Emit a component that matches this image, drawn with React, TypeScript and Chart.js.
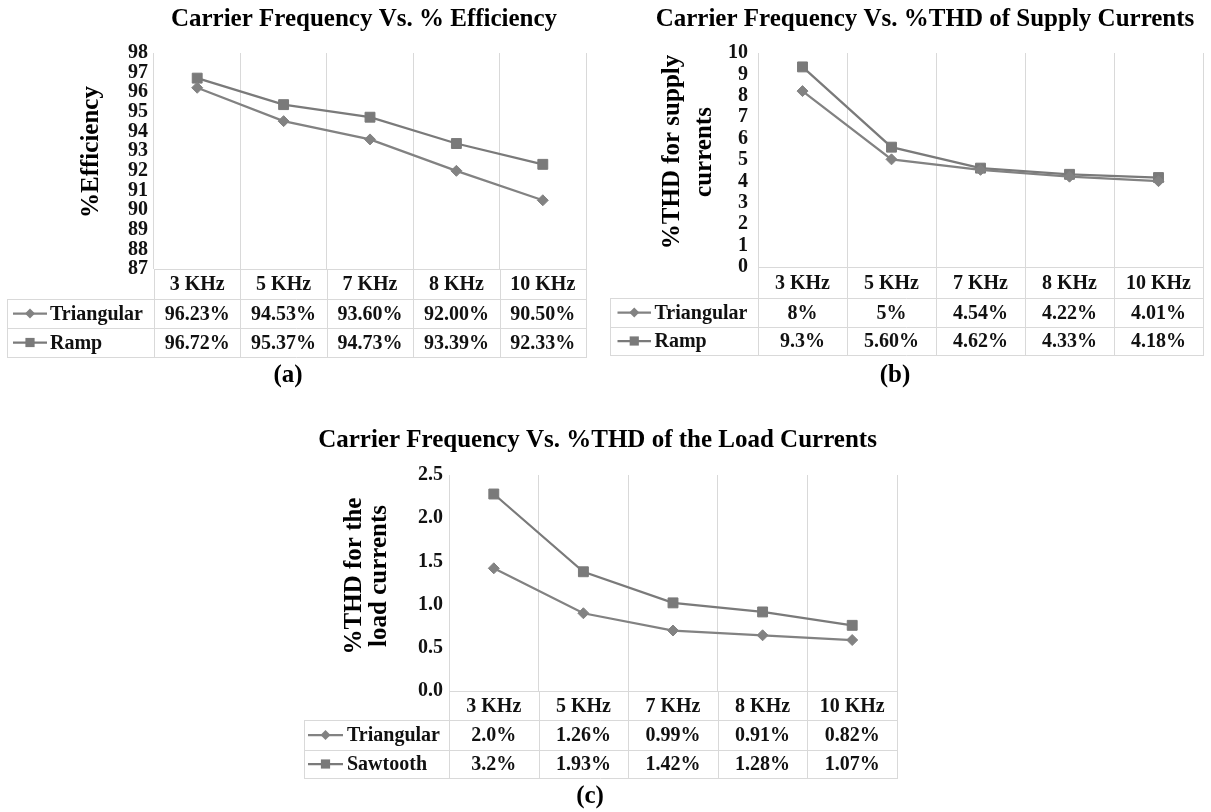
import React, { useEffect, useRef } from 'react';
import { Chart, registerables } from 'chart.js';

Chart.register(...registerables);

// ---------------- data ----------------
const categories = ['3 KHz', '5 KHz', '7 KHz', '8 KHz', '10 KHz'];

// (a) efficiency
const effTriangular = [96.23, 94.53, 93.6, 92.0, 90.5];
const effRamp = [96.72, 95.37, 94.73, 93.39, 92.33];
const effTriangularText = ['96.23%', '94.53%', '93.60%', '92.00%', '90.50%'];
const effRampText = ['96.72%', '95.37%', '94.73%', '93.39%', '92.33%'];

// (b) THD of supply currents
const supplyTriangular = [8.22, 5.03, 4.54, 4.22, 4.01];
const supplyRamp = [9.35, 5.6, 4.62, 4.33, 4.18];
const supplyTriangularText = ['8%', '5%', '4.54%', '4.22%', '4.01%'];
const supplyRampText = ['9.3%', '5.60%', '4.62%', '4.33%', '4.18%'];

// (c) THD of load currents
const loadTriangular = [1.42, 0.9, 0.7, 0.645, 0.59];
const loadSawtooth = [2.28, 1.38, 1.02, 0.915, 0.76];
const loadTriangularText = ['2.0%', '1.26%', '0.99%', '0.91%', '0.82%'];
const loadSawtoothText = ['3.2%', '1.93%', '1.42%', '1.28%', '1.07%'];

// ---------------- styling ----------------
const FONT = "'Liberation Serif', 'Times New Roman', Times, serif";
const GRID = '#d9d9d9';
const TEXT = '#111111';
const LINE_TRI = '#828282';
const LINE_SQ = '#7a7a7a';

type Series = { name: string; values: number[]; texts: string[]; marker: 'rectRot' | 'rect'; color: string; radius: number };
type PanelCfg = {
  x: number; y: number; w: number; h: number;
  area: { left: number; top: number; right: number; bottom: number };
  yMin: number; yMax: number; yStep: number; yDec: number; tickPad: number;
  title: string; titleX: number; titleY: number;
  yTitle: string[]; yTitleX: number[]; yTitleY: number;
  tableLeft: number; rows: number[]; // header top, row1 top, row2 top, bottom
  keyX1: number; keyX2: number; keyTextX: number;
  caption: string; captionX: number; captionY: number;
  series: Series[];
};

const panels: PanelCfg[] = [
  {
    x: 0, y: 0, w: 600, h: 400,
    area: { left: 154, top: 53, right: 586, bottom: 269 },
    yMin: 87, yMax: 98, yStep: 1, yDec: 0, tickPad: 6,
    title: 'Carrier Frequency Vs. % Efficiency', titleX: 364, titleY: 19.5,
    yTitle: ['%Efficiency'], yTitleX: [98], yTitleY: 152,
    tableLeft: 7, rows: [269, 299, 328, 357],
    keyX1: 13, keyX2: 47, keyTextX: 50,
    caption: '(a)', captionX: 288, captionY: 376,
    series: [
      { name: 'Triangular', values: effTriangular, texts: effTriangularText, marker: 'rectRot', color: LINE_TRI, radius: 5.5 },
      { name: 'Ramp', values: effRamp, texts: effRampText, marker: 'rect', color: LINE_SQ, radius: 7 },
    ],
  },
  {
    x: 600, y: 0, w: 611, h: 400,
    area: { left: 158, top: 53, right: 607, bottom: 267 },
    yMin: 0, yMax: 10, yStep: 1, yDec: 0, tickPad: 10,
    title: 'Carrier Frequency Vs. %THD of Supply Currents', titleX: 325, titleY: 19.5,
    yTitle: ['%THD for supply', 'currents'], yTitleX: [78.5, 111], yTitleY: 152,
    tableLeft: 10, rows: [267, 298, 327, 355],
    keyX1: 17.5, keyX2: 51, keyTextX: 54.5,
    caption: '(b)', captionX: 295, captionY: 376,
    series: [
      { name: 'Triangular', values: supplyTriangular, texts: supplyTriangularText, marker: 'rectRot', color: LINE_TRI, radius: 5.5 },
      { name: 'Ramp', values: supplyRamp, texts: supplyRampText, marker: 'rect', color: LINE_SQ, radius: 7 },
    ],
  },
  {
    x: 290, y: 410, w: 640, h: 402,
    area: { left: 159, top: 65, right: 607, bottom: 281 },
    yMin: 0, yMax: 2.5, yStep: 0.5, yDec: 1, tickPad: 6,
    title: 'Carrier Frequency Vs. %THD of the Load Currents', titleX: 307.5, titleY: 30.5,
    yTitle: ['%THD for the', 'load currents'], yTitleX: [71, 96], yTitleY: 166,
    tableLeft: 14, rows: [281, 310, 340, 368],
    keyX1: 18, keyX2: 53, keyTextX: 57,
    caption: '(c)', captionX: 300, captionY: 387,
    series: [
      { name: 'Triangular', values: loadTriangular, texts: loadTriangularText, marker: 'rectRot', color: LINE_TRI, radius: 5.5 },
      { name: 'Sawtooth', values: loadSawtooth, texts: loadSawtoothText, marker: 'rect', color: LINE_SQ, radius: 7 },
    ],
  },
];

function drawMarker(ctx: CanvasRenderingContext2D, kind: string, x: number, y: number, r: number, color: string) {
  ctx.save();
  ctx.fillStyle = color;
  ctx.beginPath();
  if (kind === 'rect') {
    const s = Math.SQRT1_2 * r;
    ctx.rect(x - s, y - s, 2 * s, 2 * s);
  } else {
    ctx.moveTo(x - r, y);
    ctx.lineTo(x, y - r);
    ctx.lineTo(x + r, y);
    ctx.lineTo(x, y + r);
    ctx.closePath();
  }
  ctx.fill();
  ctx.restore();
}

function makePlugin(cfg: PanelCfg) {
  return {
    id: 'panelDecor',
    afterDraw(chart: any) {
      const ctx: CanvasRenderingContext2D = chart.ctx;
      const xs = chart.scales.x;
      const a = chart.chartArea;
      const centers = categories.map((_, i) => xs.getPixelForValue(i));
      const bounds: number[] = [a.left];
      for (let i = 1; i < centers.length; i++) bounds.push((centers[i - 1] + centers[i]) / 2);
      bounds.push(a.right);
      const [hTop, r1, r2, bot] = cfg.rows;
      const px = (v: number) => Math.round(v) + 0.5;

      ctx.save();
      // table borders
      ctx.strokeStyle = GRID;
      ctx.lineWidth = 1;
      ctx.beginPath();
      bounds.forEach((b) => {
        ctx.moveTo(px(b), hTop);
        ctx.lineTo(px(b), bot + 1);
      });
      ctx.moveTo(a.left, px(hTop));
      ctx.lineTo(a.right, px(hTop));
      [r1, r2, bot].forEach((yy) => {
        ctx.moveTo(cfg.tableLeft, px(yy));
        ctx.lineTo(a.right, px(yy));
      });
      ctx.moveTo(px(cfg.tableLeft), r1);
      ctx.lineTo(px(cfg.tableLeft), bot + 1);
      ctx.stroke();

      // header labels
      ctx.fillStyle = TEXT;
      ctx.font = `bold 20px ${FONT}`;
      ctx.textAlign = 'center';
      ctx.textBaseline = 'middle';
      categories.forEach((c, i) => ctx.fillText(c, centers[i], (hTop + r1) / 2 + 1));

      // data rows
      const rowMids = [(r1 + r2) / 2 + 1, (r2 + bot) / 2 + 1];
      cfg.series.forEach((s, k) => {
        const ym = rowMids[k];
        ctx.fillStyle = TEXT;
        ctx.textAlign = 'center';
        s.texts.forEach((t, i) => ctx.fillText(t, centers[i], ym));
        ctx.textAlign = 'left';
        ctx.fillText(s.name, cfg.keyTextX, ym);
        // legend key
        const yk = ym - 1;
        ctx.strokeStyle = s.color;
        ctx.lineWidth = 2.25;
        ctx.beginPath();
        ctx.moveTo(cfg.keyX1, yk);
        ctx.lineTo(cfg.keyX2, yk);
        ctx.stroke();
        drawMarker(ctx, s.marker, (cfg.keyX1 + cfg.keyX2) / 2, yk, s.marker === 'rect' ? 6.5 : 5, s.color);
      });

      // title
      ctx.fillStyle = '#000';
      ctx.font = `bold 25px ${FONT}`;
      ctx.textAlign = 'center';
      ctx.textBaseline = 'middle';
      ctx.fillText(cfg.title, cfg.titleX, cfg.titleY);
      // caption
      ctx.fillText(cfg.caption, cfg.captionX, cfg.captionY);

      // y axis title (rotated)
      ctx.textBaseline = 'alphabetic';
      cfg.yTitle.forEach((line, i) => {
        ctx.save();
        ctx.translate(cfg.yTitleX[i], cfg.yTitleY);
        ctx.rotate(-Math.PI / 2);
        ctx.fillText(line, 0, 0);
        ctx.restore();
      });
      ctx.restore();
    },
  };
}

function Panel({ cfg }: { cfg: PanelCfg }) {
  const ref = useRef<HTMLCanvasElement>(null);
  useEffect(() => {
    const canvas = ref.current;
    if (!canvas) return;
    const { area } = cfg;
    const chart = new Chart(canvas, {
      type: 'line',
      data: {
        labels: categories,
        datasets: cfg.series.map((s) => ({
          label: s.name,
          data: s.values,
          borderColor: s.color,
          backgroundColor: s.color,
          pointBackgroundColor: s.color,
          pointBorderColor: s.color,
          pointStyle: s.marker,
          pointRadius: s.radius,
          pointBorderWidth: 1,
          borderWidth: 2.25,
          tension: 0,
          fill: false,
        })),
      },
      options: {
        responsive: false,
        animation: false,
        devicePixelRatio: 1,
        events: [],
        layout: { padding: { left: 0, top: area.top, right: cfg.w - area.right, bottom: cfg.h - area.bottom } },
        plugins: { legend: { display: false }, title: { display: false }, tooltip: { enabled: false } },
        scales: {
          x: {
            type: 'category',
            offset: true,
            grid: { display: true, offset: true, color: GRID, lineWidth: 1, drawTicks: false },
            border: { display: false },
            ticks: { display: false },
            afterFit: (s: any) => { s.height = 0; },
          },
          y: {
            min: cfg.yMin,
            max: cfg.yMax,
            grid: { display: false, drawTicks: false },
            border: { display: false },
            ticks: {
              stepSize: cfg.yStep,
              autoSkip: false,
              maxTicksLimit: 50,
              padding: cfg.tickPad,
              color: TEXT,
              font: { family: FONT, size: 20, weight: 'bold', lineHeight: 1 },
              callback: (v: any) => Number(v).toFixed(cfg.yDec),
            },
            afterFit: (s: any) => { s.width = area.left; },
          },
        },
      } as any,
      plugins: [makePlugin(cfg)],
    });
    return () => chart.destroy();
  }, [cfg]);
  return (
    <canvas
      ref={ref}
      width={cfg.w}
      height={cfg.h}
      style={{ position: 'absolute', left: cfg.x, top: cfg.y, width: cfg.w, height: cfg.h }}
    />
  );
}

export default function App() {
  return (
    <div style={{ position: 'absolute', left: 0, top: 0, width: 1211, height: 812, background: '#fff', overflow: 'hidden' }}>
      {panels.map((p, i) => (
        <Panel key={i} cfg={p} />
      ))}
    </div>
  );
}
